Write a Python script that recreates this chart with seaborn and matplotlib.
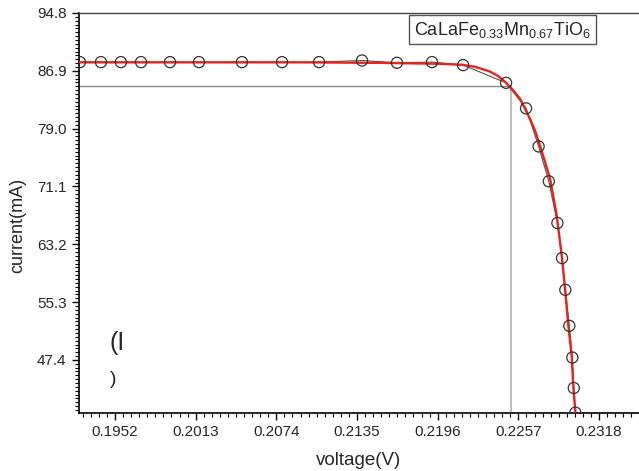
import numpy as np
import pandas as pd
import matplotlib
matplotlib.use("Agg")
import matplotlib.pyplot as plt
from matplotlib.ticker import FixedLocator, MultipleLocator
import seaborn as sns

# measured points (circles)
voltage = [0.19255, 0.19414, 0.19565, 0.19717, 0.19936, 0.20155, 0.20480, 0.20783,
           0.21063, 0.21388, 0.21652, 0.21917, 0.22152, 0.22477, 0.22628, 0.22723,
           0.22800, 0.22865, 0.22900, 0.22925, 0.22955, 0.22978, 0.22989, 0.23001]
current = [88.09, 88.09, 88.09, 88.09, 88.09, 88.09, 88.09, 88.09,
           88.09, 88.31, 88.00, 88.09, 87.68, 85.26, 81.77, 76.57,
           71.81, 66.11, 61.32, 56.98, 52.06, 47.73, 43.57, 40.20]

# fitted curve (red)
fit_voltage = [0.19248, 0.20919, 0.21524, 0.21978, 0.22149, 0.22242, 0.22356, 0.22418,
               0.22477, 0.22532, 0.22583, 0.22621, 0.22658, 0.22696, 0.22734, 0.22810,
               0.22860, 0.22898, 0.22923, 0.22948, 0.22974, 0.22986, 0.23001]
fit_current = [88.06, 88.06, 87.99, 87.86, 87.72, 87.45, 86.80, 86.17,
               85.26, 84.21, 83.07, 81.70, 80.33, 78.73, 76.68, 72.13,
               67.11, 61.63, 57.08, 52.06, 47.78, 43.58, 40.25]

# maximum power point guide lines
v_mp = 0.22517
i_mp = 84.81

x_ticks = [0.1952, 0.2013, 0.2074, 0.2135, 0.2196, 0.2257, 0.2318]
y_ticks = [47.4, 55.3, 63.2, 71.1, 79.0, 86.9, 94.8]

legend_label = "CaLaFe$_{0.33}$Mn$_{0.67}$TiO$_6$"

sns.set_style("ticks")
plt.rcParams['font.family'] = ['Liberation Sans', 'DejaVu Sans']
plt.rcParams['mathtext.fontset'] = 'custom'
plt.rcParams['mathtext.rm'] = 'Liberation Sans'
plt.rcParams['mathtext.it'] = 'Liberation Sans'

fig = plt.figure(figsize=(6.39, 4.71), dpi=100)
ax = fig.add_axes([79/639, 58/471, (639-79)/639, 400/471])

df = pd.DataFrame({"voltage": voltage, "current": current})
fit = pd.DataFrame({"voltage": fit_voltage, "current": fit_current})

xmin, xmax = 0.19248, 0.23482
ymin, ymax = 40.15, 94.8

# guide lines
ax.plot([xmin, v_mp], [i_mp, i_mp], color="#8a8a8a", lw=1.0, zorder=1)
ax.plot([v_mp, v_mp], [ymin, i_mp], color="#b0b0b0", lw=1.2, zorder=1)

sns.lineplot(data=df, x="voltage", y="current", ax=ax, color="#555555", lw=0.8,
             sort=False, estimator=None, zorder=2)
sns.lineplot(data=fit, x="voltage", y="current", ax=ax, color="#e8231b", lw=1.7,
             sort=False, estimator=None, zorder=3)
sns.scatterplot(data=df, x="voltage", y="current", ax=ax, s=64, marker="o",
                facecolor="none", edgecolor="#333333", linewidth=0.9, zorder=4)

ax.set_xlim(xmin, xmax)
ax.set_ylim(ymin, ymax)
ax.xaxis.set_major_locator(FixedLocator(x_ticks))
ax.yaxis.set_major_locator(FixedLocator(y_ticks))
ax.xaxis.set_minor_locator(MultipleLocator(0.00061))
ax.yaxis.set_minor_locator(MultipleLocator(7.9/15))
ax.set_xticklabels([f"{t:.4f}" for t in x_ticks], fontsize=11)
ax.set_yticklabels([f"{t:.1f}" for t in y_ticks], fontsize=11)
ax.tick_params(which="major", direction="out", length=5, width=1.0, color="black", pad=4)
ax.tick_params(which="minor", direction="out", length=3, width=0.8, color="black")

for s in ["left", "bottom"]:
    ax.spines[s].set_color("black")
    ax.spines[s].set_linewidth(1.2)
ax.spines["top"].set_visible(True)
ax.spines["top"].set_color("#444444")
ax.spines["top"].set_linewidth(1.0)
ax.spines["right"].set_visible(False)

ax.set_xlabel("voltage(V)", fontsize=13.5)
ax.set_ylabel("current(mA)", fontsize=13)
ax.xaxis.set_label_coords(0.5, -0.097)
ax.yaxis.set_label_coords(-0.095, 0.47)

ax.text(0.0545, 0.175, "(I", transform=ax.transAxes, fontsize=18, ha="left", va="center")
ax.text(0.056, 0.085, ")", transform=ax.transAxes, fontsize=14, ha="left", va="center")

ax.text((408+597)/2/639, 1 - 29.5/471, legend_label, transform=fig.transFigure,
        fontsize=13, ha="center", va="center",
        bbox=dict(boxstyle="square,pad=0.25", facecolor="white", edgecolor="#555555", lw=1.0))

fig.savefig("out.png", dpi=100)
